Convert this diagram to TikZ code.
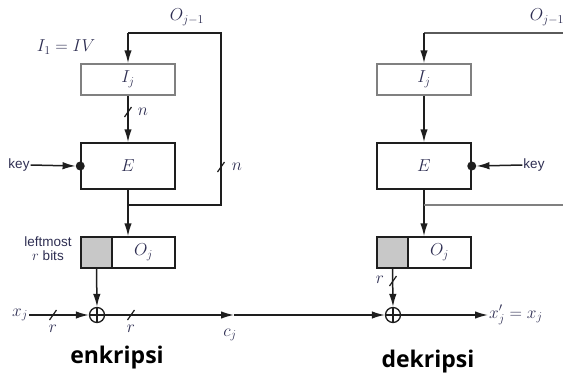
\documentclass[tikz,border=0pt]{standalone}
\usepackage{fontspec}
\setsansfont{Liberation Sans}
\newfontfamily\headfont{Open Sans}
\usetikzlibrary{arrows.meta}

\definecolor{linec}{HTML}{1E1E1E}
\definecolor{boxgray}{HTML}{808080}
\definecolor{fillgray}{HTML}{C8C8C8}
\definecolor{mathc}{HTML}{2E2E52}

\begin{document}
\begin{tikzpicture}[x=1pt,y=-1pt,
  wire/.style={line width=1.5pt, draw=linec},
  arr/.style={wire, -{Latex[length=13pt,width=7.5pt]}},
  regbox/.style={draw=linec, line width=1.5pt, minimum width=94pt, minimum height=31pt, inner sep=0pt},
  inbox/.style={regbox, draw=boxgray, minimum height=31pt},
  encbox/.style={regbox, minimum height=46pt},
  xorc/.style={circle, draw=linec, line width=1.3pt, minimum size=15pt, inner sep=0pt},
  mfont/.style={font=\fontsize{18}{21}\selectfont, text=mathc},
  mlab/.style={mfont, inner sep=1pt},
  slab/.style={text=mathc, font=\sffamily\fontsize{13.5}{15}\selectfont, inner sep=1pt},
  head/.style={font=\headfont\bfseries\fontsize{23}{26}\selectfont, text=black},
  dotc/.style={circle, fill=linec, minimum size=9pt, inner sep=0pt},
  slash/.pic={\draw[line width=1.2pt, draw=linec] (-3.5,5) -- (3.5,-5);}
]
\useasboundingbox (0,0) rectangle (563,378);
\clip (0,0) rectangle (563,378);

% ---------- encryption ----------
\node[inbox, mfont]  (Ie) at (128,79.5) {$I_j$};
\node[encbox, mfont] (Ee) at (128,166) {$E$};
\node[regbox] (Oe) at (128,252.5) {};
\node[draw=linec, line width=1.5pt, fill=fillgray, minimum width=31pt, minimum height=31pt, inner sep=0pt, anchor=west] (Ge) at (Oe.west) {};
\node[mlab] at (143.5,252.5) {$O_j$};

\node[mlab] (ivlab) at (66,47) {$I_1 = IV$};
\node[mlab] (oprevL) at (187,17) {$O_{j-1}$};

\coordinate (jl) at (128,205);
\coordinate (fbR) at (221,205);
\coordinate (fbT) at (221,33);
\coordinate (fbL) at (128,33);
\draw[wire] (jl) -- (fbR) -- (fbT) -- (fbL);
\draw[arr] (fbL) -- (Ie.north);
\pic at (221,167) {slash};
\node[mlab] at (237,167) {$n$};

\draw[arr] (Ie.south) -- (Ee.north);
\pic at (128,112) {slash};
\node[mlab] at (143,112) {$n$};

\draw[arr] (Ee.south) -- (Oe.north);

\node[slab] (keyL) at (19,165) {key};
\node[dotc] (dotL) at (Ee.west) {};
\draw[arr] (keyL.east) -- (dotL.west);

\node[slab, align=center] (lm) at (48,249) {leftmost\\[-1pt]$r$ bits};

\node[xorc] (xe) at (97,315) {};
\draw[wire, line width=1.3pt] (xe.north) -- (xe.south) (xe.west) -- (xe.east);
\draw[arr] (Ge.south) -- (xe.north);

\node[mlab] (xj) at (20,315) {$x_j$};
\draw[arr] (xj.east) -- (xe.west);
\pic at (53,315) {slash};
\node[mlab] at (53,329) {$r$};

\coordinate (cm) at (234,315);
\node[mlab] at (230,335) {$c_j$};
\pic at (131,315) {slash};
\node[mlab] at (131,329) {$r$};

\node[head] at (117,358) {enkripsi};

% ---------- decryption ----------
\node[inbox, mfont]  (Id) at (424,79.5) {$I_j$};
\node[encbox, mfont] (Ed) at (424,166) {$E$};
\node[regbox] (Od) at (424,252.5) {};
\node[draw=linec, line width=1.5pt, fill=fillgray, minimum width=31pt, minimum height=31pt, inner sep=0pt, anchor=west] (Gd) at (Od.west) {};
\node[mlab] at (439.5,252.5) {$O_j$};

\node[mlab] (oprevR) at (547,17) {$O_{j-1}$};
\coordinate (tR) at (570,33);
\coordinate (tL) at (424,33);
\draw[wire, draw=boxgray!70!black] (tR) -- (tL);
\draw[arr] (tL) -- (Id.north);
\draw[arr] (Id.south) -- (Ed.north);
\draw[arr] (Ed.south) -- (Od.north);
\coordinate (jr) at (424,205);
\coordinate (jrR) at (570,205);
\draw[wire, draw=boxgray] (jr) -- (jrR);

\node[slab] (keyR) at (534,165) {key};
\node[dotc] (dotR) at (Ed.east) {};
\draw[arr] (keyR.west) -- (dotR.east);

\node[xorc] (xd) at (393,315) {};
\draw[wire, line width=1.3pt] (xd.north) -- (xd.south) (xd.west) -- (xd.east);
\draw[arr] (Gd.south) -- (xd.north);
\pic at (393,281) {slash};
\node[mlab] at (380,280) {$r$};

\draw[arr] (xe.east) -- (cm);
\draw[arr] (cm) -- (xd.west);

\node[mlab, anchor=west] (xout) at (488,315) {$x'_j = x_j$};
\draw[arr] (xd.east) -- (xout.west);

\node[head] at (428,362) {dekripsi};
\end{tikzpicture}
\end{document}
